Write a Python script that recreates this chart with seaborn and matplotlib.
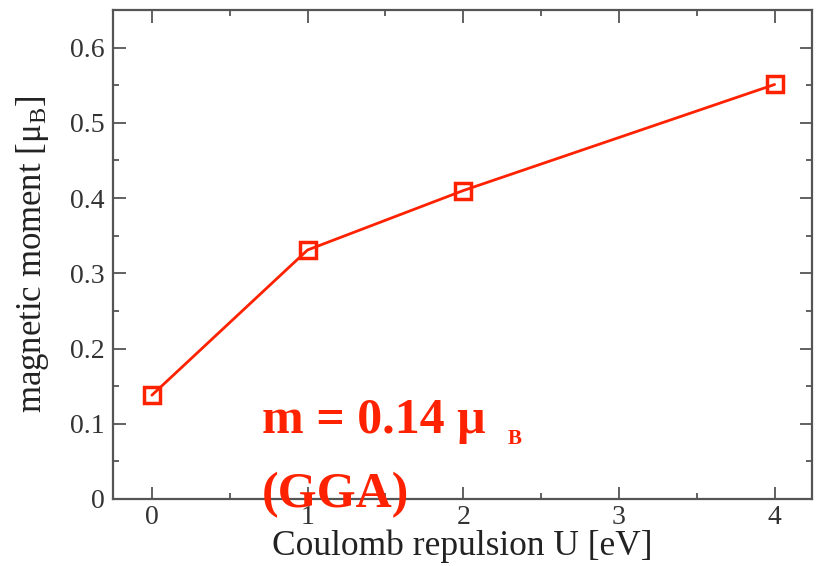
import matplotlib
matplotlib.use("Agg")
import matplotlib.pyplot as plt
import pandas as pd
import seaborn as sns

# values
coulomb_u = [0, 1, 2, 4]
moment = [0.138, 0.331, 0.410, 0.551]
x_ticks = [0, 1, 2, 3, 4]
y_ticks = [0, 0.1, 0.2, 0.3, 0.4, 0.5, 0.6]
y_tick_labels = ["0", "0.1", "0.2", "0.3", "0.4", "0.5", "0.6"]

RED = "#ff2200"

sns.set_style("ticks")
plt.rcParams["font.family"] = ["Liberation Serif", "DejaVu Serif"]
plt.rcParams["mathtext.fontset"] = "custom"
plt.rcParams["mathtext.rm"] = "Liberation Serif"
plt.rcParams["mathtext.it"] = "Liberation Serif:italic"
plt.rcParams["mathtext.bf"] = "Liberation Serif:bold"

df = pd.DataFrame({"U": coulomb_u, "m": moment})

fig = plt.figure(figsize=(8.21, 5.66), dpi=100)
ax = fig.add_axes([0.1376, 0.1184, 0.8514, 0.8639])

sns.lineplot(data=df, x="U", y="m", ax=ax, color=RED, linewidth=2,
             marker="s", markersize=11, markerfacecolor="none",
             markeredgecolor=RED, markeredgewidth=2.5)

ax.set_xlim(-0.25, 4.24)
ax.set_ylim(0, 0.65)
ax.set_xticks(x_ticks)
ax.set_xticks([-0.5 + 0.5 * i for i in range(1, 10)], minor=True)
ax.set_yticks(y_ticks)
ax.set_yticklabels(y_tick_labels)
ax.set_yticks([0.05 + 0.1 * i for i in range(7)], minor=True)
ax.tick_params(which="both", direction="in", top=True, right=True,
               colors="#555555", labelcolor="#333333", labelsize=20,
               width=1.3)
ax.tick_params(which="major", length=9, pad=6)
ax.tick_params(axis="x", which="major", pad=4)
ax.tick_params(which="minor", length=4)
for s in ax.spines.values():
    s.set_color("#555555")
    s.set_linewidth(1.6)

ax.set_xlabel("Coulomb repulsion U [eV]", fontsize=25.5, color="#222222",
              labelpad=0)
ax.set_ylabel("magnetic moment [μ$_\\mathrm{B}$]", fontsize=25,
              color="#222222")
ax.yaxis.set_label_coords(-0.088, 0.5)

t = ax.text(0.705, 0.088, "m = 0.14 μ", fontsize=36, fontweight="bold",
            color=RED, ha="left", va="baseline")
ax.annotate("B", xy=(1, 0), xycoords=t, xytext=(16, 0),
            textcoords="offset points", fontsize=15, fontweight="bold",
            color=RED, ha="left", va="baseline")
ax.text(0.705, -0.011, "(GGA)", fontsize=36, fontweight="bold", color=RED,
        ha="left", va="baseline", clip_on=False)

fig.savefig("out.png", dpi=100)
